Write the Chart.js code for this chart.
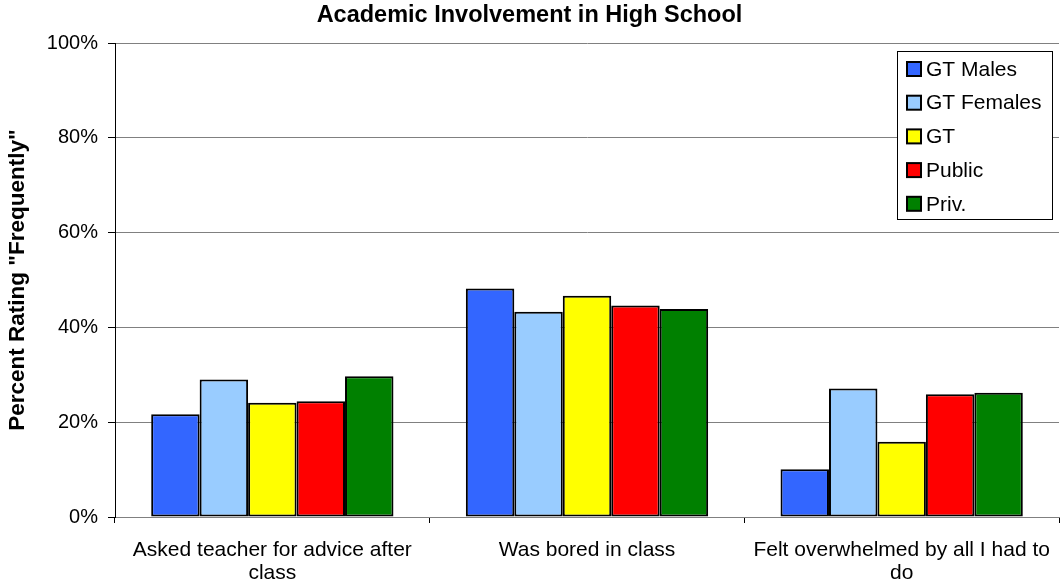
<!DOCTYPE html>
<html>
<head>
<meta charset="utf-8">
<title>Academic Involvement in High School</title>
<script src="https://cdn.jsdelivr.net/npm/chart.js@4.4.1/dist/chart.umd.min.js"></script>
<style>
    html, body { margin: 0; padding: 0; background: #fff; }
    #wrap { width: 1060px; height: 588px; }
</style>
</head>
<body>
<div id="wrap"><canvas id="involvementChart" width="1060" height="588"></canvas></div>
<script>
// Survey items (x axis)
const categories = [
    ['Asked teacher for advice after', 'class'],
    'Was bored in class',
    ['Felt overwhelmed by all I had to', 'do']
];

// Percent rating "Frequently" per group
const gtMales   = [21.7, 48.2, 10.1];
const gtFemales = [29.0, 43.3, 27.1];
const gtAll     = [24.1, 46.7, 15.9];
const publicSch = [24.4, 44.6, 25.9];
const privSch   = [29.7, 43.9, 26.2];

const yTicks = [0, 20, 40, 60, 80, 100];

const FONT = 'Arial, "Liberation Sans", sans-serif';

function series(label, data, color) {
    return {
        label: label,
        data: data,
        backgroundColor: color,
        borderColor: '#000',
        borderWidth: 2,
        borderSkipped: false,
        categoryPercentage: 0.77,
        barPercentage: 1.0
    };
}

// Boxed legend drawn inside the top-right of the plot
const boxLegend = {
    id: 'boxLegend',
    afterDraw(chart) {
        const ctx = chart.ctx;
        const area = chart.chartArea;
        const w = 155, h = 168;
        const x = area.right - 7 - w;
        const y = area.top + 8;
        ctx.save();
        ctx.fillStyle = '#fff';
        ctx.fillRect(x, y, w, h);
        ctx.strokeStyle = '#000';
        ctx.lineWidth = 1;
        ctx.strokeRect(x + 0.5, y + 0.5, w, h);
        ctx.font = '21px ' + FONT;
        ctx.textBaseline = 'middle';
        chart.data.datasets.forEach((ds, i) => {
            const cy = y + 18 + i * 33.7;
            ctx.fillStyle = ds.backgroundColor;
            ctx.fillRect(x + 10, cy - 7, 14, 14);
            ctx.lineWidth = 2;
            ctx.strokeRect(x + 10, cy - 7, 14, 14);
            ctx.fillStyle = '#000';
            ctx.fillText(ds.label, x + 29, cy + 1);
        });
        ctx.restore();
    }
};

document.addEventListener('DOMContentLoaded', function() {
    const canvas = document.getElementById('involvementChart');
    new Chart(canvas, {
        type: 'bar',
        data: {
            labels: categories,
            datasets: [
                series('GT Males', gtMales, '#3366FF'),
                series('GT Females', gtFemales, '#99CCFF'),
                series('GT', gtAll, '#FFFF00'),
                series('Public', publicSch, '#FF0000'),
                series('Priv.', privSch, '#008000')
            ]
        },
        options: {
            responsive: false,
            animation: false,
            layout: { padding: { left: 0, right: 1, top: 0, bottom: 0 } },
            plugins: {
                legend: { display: false },
                tooltip: { enabled: false },
                title: {
                    display: true,
                    text: 'Academic Involvement in High School',
                    color: '#000',
                    font: { family: FONT, size: 23.5, weight: 'bold', lineHeight: 1.2 },
                    padding: { top: 1, bottom: 13.8 }
                }
            },
            scales: {
                x: {
                    afterFit: function(scale) {
                        // long wrapped labels should not shrink the plot
                        scale.height = 71;
                        scale.paddingLeft = 0;
                        scale.paddingRight = 0;
                    },
                    border: { display: true, color: '#808080', width: 1 },
                    grid: {
                        offset: true,
                        drawOnChartArea: true,
                        color: function(c) { return c.index === categories.length ? '#808080' : 'rgba(0,0,0,0)'; },
                        tickColor: '#000',
                        tickLength: 6
                    },
                    ticks: {
                        color: '#000',
                        font: { family: FONT, size: 21, lineHeight: 1.1 },
                        padding: 16,
                        maxRotation: 0,
                        autoSkip: false
                    }
                },
                y: {
                    min: 0,
                    max: 100,
                    afterFit: function(scale) { scale.width = 115; },
                    afterBuildTicks: function(scale) {
                        scale.ticks = yTicks.map(v => ({ value: v }));
                    },
                    border: { display: true, color: '#000', width: 1 },
                    grid: {
                        color: '#808080',
                        tickColor: '#000',
                        tickLength: 7
                    },
                    ticks: {
                        color: '#000',
                        font: { family: FONT, size: 20 },
                        padding: 10,
                        callback: function(value) { return value + '%'; }
                    },
                    title: {
                        display: true,
                        text: 'Percent Rating "Frequently"',
                        color: '#000',
                        font: { family: FONT, size: 22.5, weight: 'bold', lineHeight: 1.2 },
                        padding: { top: 4, bottom: 4 }
                    }
                }
            }
        },
        plugins: [boxLegend]
    });
});
</script>
</body>
</html>
